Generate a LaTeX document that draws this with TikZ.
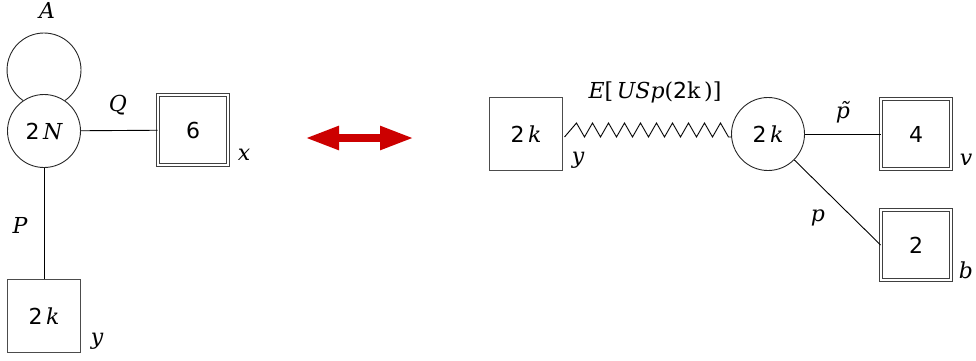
\documentclass[tikz,border=0pt]{standalone}
\usepackage{fontspec}
\setmainfont{DejaVu Sans}
\newfontfamily\vfam{DejaVu Serif}
\usetikzlibrary{arrows.meta}
\newcommand{\vi}[1]{{\vfam\itshape #1}}
\newcommand{\vu}[1]{{\vfam #1}}
\begin{document}
\begin{tikzpicture}[x=1pt,y=-1pt,
  every node/.style={font=\fontsize{22}{26}\selectfont},
  gauge/.style={circle,draw=black!85,line width=0.9pt,minimum size=73pt,inner sep=0pt},
  flav/.style={rectangle,draw=black!70,line width=1pt,minimum size=73pt,inner sep=0pt},
  dflav/.style={rectangle,draw=black!75,double,double distance=2.2pt,line width=0.8pt,minimum size=70pt,inner sep=0pt},
  lbl/.style={inner sep=0pt},
  edge/.style={draw=black,line width=0.9pt}]
\useasboundingbox (0,0) rectangle (976,360);
% left quiver
\node[gauge] (N) at (44,131) {2\,\vi{N}};
\draw[edge,draw=black!85] (N.center) ++(0,-61) ++(55.6:37) arc[start angle=55.6,end angle=-235.6,radius=37];
\node[dflav] (F6) at (193,130) {6};
\node[flav] (Bk) at (44,316) {2\,\vi{k}};
\draw[edge] (N) -- (F6);
\draw[edge] (N) -- (Bk);
\node[lbl] (lA) at (47,10) {\vi{A}};
\node[lbl] (lQ) at (118,105) {\vi{Q}};
\node[lbl] (lx) at (244,155) {\vi{x}};
\node[lbl] (lP) at (20,225) {\vi{P}};
\node[lbl] (ly) at (97,341) {\vi{y}};
% red arrow
\coordinate (al) at (305,138);
\coordinate (ar) at (414,138);
\draw[line width=8pt,draw={rgb,255:red,204;green,0;blue,0},
  {Triangle[length=34pt,width=22pt]}-{Triangle[length=34pt,width=22pt]}] (al) -- (ar);
% right quiver
\node[flav] (Rk) at (526,134) {2\,\vi{k}};
\node[gauge] (G) at (768,134) {2\,\vi{k}};
\node[dflav] (F4) at (916,134) {4};
\node[dflav] (F2) at (916,245) {2};
\draw[edge,line join=miter] (Rk.east) ++(1.5,3) -- ++(12,-14)
  \foreach \i in {1,...,9}{ -- ++(8,14) -- ++(8,-14)} -- ++(8,14) -- (G.west |- 0,137);
\draw[edge] (G) -- (F4);
\draw[edge] (G) -- (F2.west);
\node[lbl] (lE) at (655,92) {\vi{E}\vu{[}\,\vi{USp}\vu{(}2\vu{k}\,\vu{)}\vu{]}};
\node[lbl] (ly2) at (578,160) {\vi{y}};
\node[lbl] (lpt) at (843,112) {\vi{p̃}};
\node[lbl] (lv) at (966,160) {\vi{v}};
\node[lbl] (lp) at (818,218) {\vi{p}};
\node[lbl] (lb) at (966,270) {\vi{b}};
\end{tikzpicture}
\end{document}
